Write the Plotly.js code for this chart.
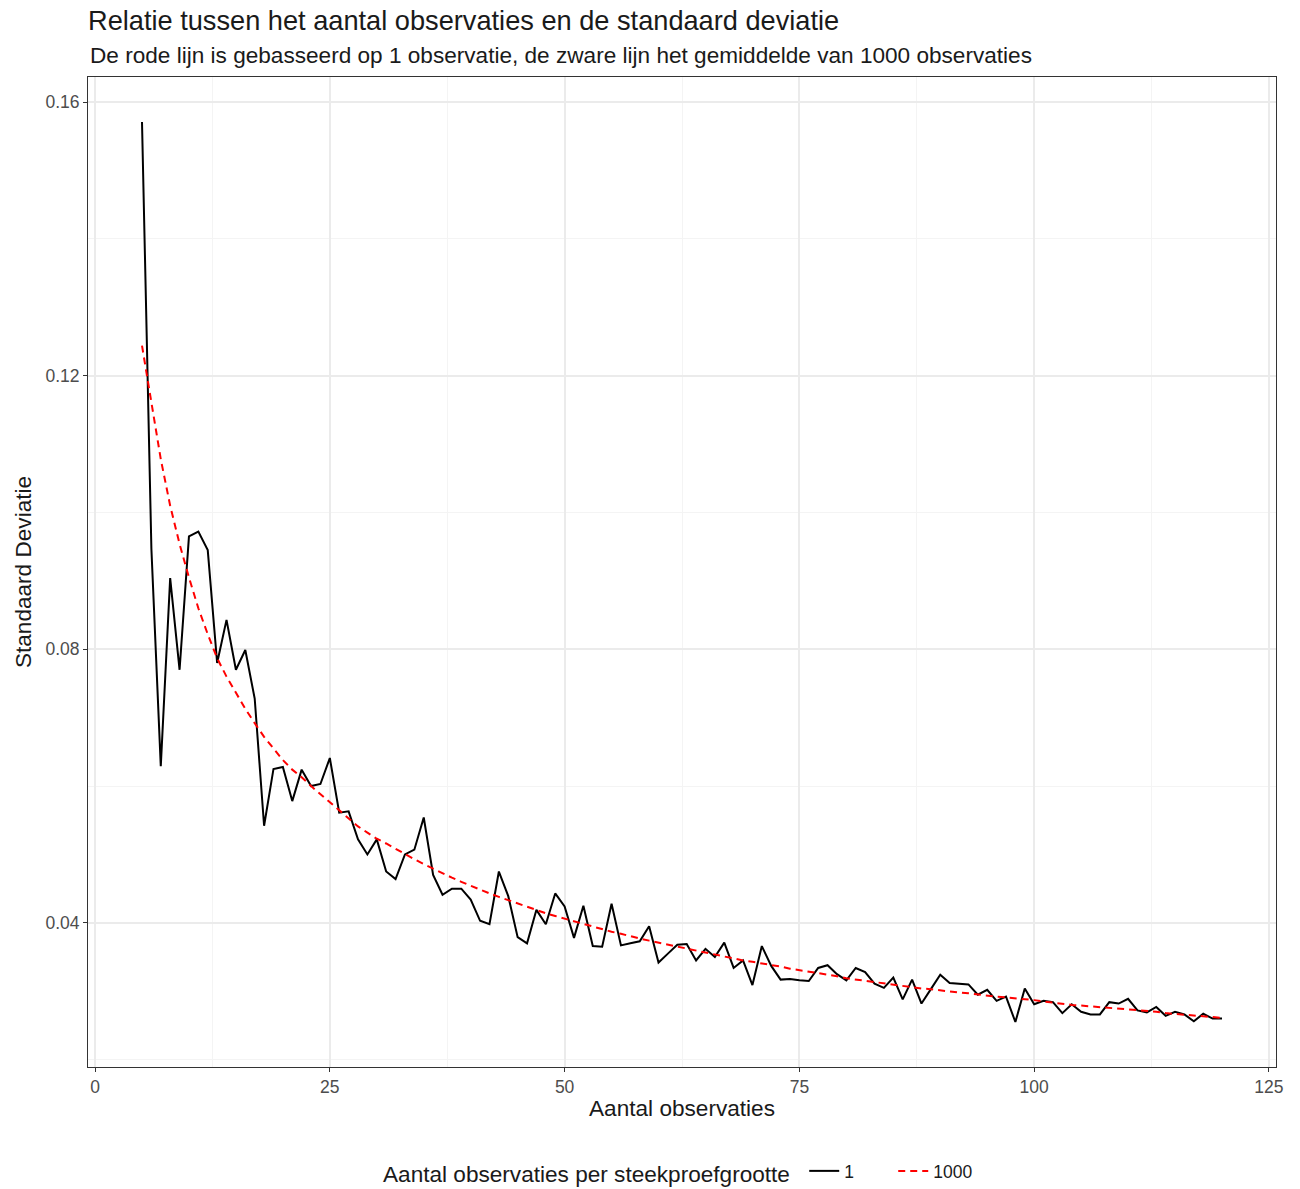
<!DOCTYPE html>
<html>
<head>
<meta charset="utf-8">
<script src="https://cdn.plot.ly/plotly-3.0.1.min.js"></script>
<style>
  html, body { margin: 0; padding: 0; background: #ffffff; }
  #chart { width: 1300px; height: 1189px; }
</style>
</head>
<body>
<div id="chart"></div>
<script>
// Sample sizes (aantal observaties)
const sampleSizes = [];
for (let n = 5; n <= 120; n++) sampleSizes.push(n);

// Series "1": standard deviation from a single observation per sample size
const sdSingle = [
  0.1571, 0.0947, 0.0629, 0.0904, 0.0770, 0.0965, 0.0972, 0.0945, 0.0780, 0.0843,
  0.0770, 0.0799, 0.0728, 0.0542, 0.0625, 0.0628, 0.0578, 0.0624, 0.0600, 0.0603,
  0.0641, 0.0561, 0.0563, 0.0522, 0.0500, 0.0522, 0.0475, 0.0464, 0.0500, 0.0507,
  0.0554, 0.0470, 0.0441, 0.0450, 0.0450, 0.0434, 0.0403, 0.0398, 0.0475, 0.0439,
  0.0379, 0.0370, 0.0419, 0.0398, 0.0443, 0.0424, 0.0378, 0.0425, 0.0366, 0.0365,
  0.0428, 0.0367, 0.0370, 0.0373, 0.0395, 0.0342, 0.0355, 0.0368, 0.0369, 0.0345,
  0.0362, 0.0350, 0.0371, 0.0334, 0.0345, 0.0309, 0.0366, 0.0337, 0.0317, 0.0318,
  0.0316, 0.0315, 0.0334, 0.0338, 0.0325, 0.0316, 0.0334, 0.0328, 0.0311, 0.0305,
  0.0320, 0.0288, 0.0317, 0.0282, 0.0303, 0.0324, 0.0312, 0.0311, 0.0310, 0.0295,
  0.0302, 0.0286, 0.0292, 0.0255, 0.0304, 0.0281, 0.0286, 0.0284, 0.0268, 0.0281,
  0.0270, 0.0266, 0.0266, 0.0284, 0.0282, 0.0289, 0.0272, 0.0269, 0.0277, 0.0264,
  0.0270, 0.0266, 0.0256, 0.0267, 0.0260, 0.0260
];

// Series "1000": mean standard deviation over 1000 observations per sample size
const sdMean1000 = [
  0.1244, 0.1160, 0.1078, 0.1010, 0.0954, 0.0905, 0.0860, 0.0822, 0.0787, 0.0760,
  0.0736, 0.0713, 0.0692, 0.0672, 0.0655, 0.0638, 0.0624, 0.0613, 0.0600, 0.0588,
  0.0577, 0.0565, 0.0553, 0.0541, 0.0532, 0.0523, 0.0516, 0.0508, 0.0500, 0.0493,
  0.0486, 0.0479, 0.0472, 0.0466, 0.0460, 0.0454, 0.0449, 0.0443, 0.0438, 0.0433,
  0.0428, 0.0424, 0.0419, 0.0414, 0.0410, 0.0406, 0.0402, 0.0398, 0.0394, 0.0390,
  0.0387, 0.0384, 0.0380, 0.0377, 0.0374, 0.0371, 0.0368, 0.0365, 0.0362, 0.0359,
  0.0356, 0.0353, 0.0351, 0.0348, 0.0345, 0.0343, 0.0341, 0.0338, 0.0336, 0.0333,
  0.0331, 0.0329, 0.0327, 0.0324, 0.0322, 0.0319, 0.0317, 0.0315, 0.0313, 0.0311,
  0.0309, 0.0308, 0.0306, 0.0304, 0.0303, 0.0301, 0.0300, 0.0298, 0.0297, 0.0295,
  0.0294, 0.0292, 0.0291, 0.0290, 0.0288, 0.0287, 0.0285, 0.0283, 0.0282, 0.0280,
  0.0279, 0.0278, 0.0276, 0.0275, 0.0274, 0.0273, 0.0272, 0.0271, 0.0270, 0.0268,
  0.0267, 0.0266, 0.0265, 0.0264, 0.0263, 0.0261
];

const seriesNames = ["1", "1000"];
const xTicks = [0, 25, 50, 75, 100, 125];
const yTicks = [0.04, 0.08, 0.12, 0.16];
const yTickLabels = ["0.04", "0.08", "0.12", "0.16"];

const FONT = "Liberation Sans, Arial, Helvetica, sans-serif";
const SIZE_TITLE = 27.2;
const SIZE_TEXT = 22.6;
const SIZE_SMALL = 17.5;

const traces = [
  {
    x: sampleSizes, y: sdSingle, name: seriesNames[0], type: "scatter", mode: "lines",
    line: { color: "#000000", width: 2 }
  },
  {
    x: sampleSizes, y: sdMean1000, name: seriesNames[1], type: "scatter", mode: "lines",
    line: { color: "#ff0000", width: 2, dash: "7px,5px" }
  }
];

const gridMajor = "#ebebeb";
const gridMinor = "#f4f4f4";

const layout = {
  width: 1300, height: 1189,
  paper_bgcolor: "#ffffff", plot_bgcolor: "#ffffff",
  font: { family: FONT, color: "#000000" },
  margin: { l: 88, r: 24, t: 77, b: 122, autoexpand: false },
  title: {
    text: "Relatie tussen het aantal observaties en de standaard deviatie",
    font: { family: FONT, size: SIZE_TITLE, color: "#1a1a1a" },
    x: 88 / 1300, xanchor: "left", xref: "container",
    y: 1 - 20 / 1189, yanchor: "middle", yref: "container"
  },
  annotations: [
    {
      text: "De rode lijn is gebasseerd op 1 observatie, de zware lijn het gemiddelde van 1000 observaties",
      xref: "paper", yref: "paper", x: 0, y: 1 + 22 / 990,
      xanchor: "left", yanchor: "middle", showarrow: false,
      font: { family: FONT, size: SIZE_TEXT, color: "#1a1a1a" }
    }
  ],
  xaxis: {
    range: [-0.75, 125.75],
    tickvals: xTicks, ticktext: xTicks.map(String),
    ticks: "outside", ticklen: 4, tickcolor: "#333333", tickwidth: 1,
    tickfont: { family: FONT, size: SIZE_SMALL, color: "#4d4d4d" },
    showgrid: true, gridcolor: gridMajor, gridwidth: 2,
    minor: { dtick: 12.5, tick0: 0, showgrid: true, gridcolor: gridMinor, gridwidth: 1, ticks: "" },
    showline: true, mirror: true, linecolor: "#333333", linewidth: 1,
    zeroline: false,
    title: { text: "Aantal observaties", font: { family: FONT, size: SIZE_TEXT, color: "#1a1a1a" }, standoff: 4 }
  },
  yaxis: {
    range: [0.01892, 0.16368],
    tickvals: yTicks, ticktext: yTickLabels,
    ticks: "outside", ticklen: 4, tickcolor: "#333333", tickwidth: 1,
    tickfont: { family: FONT, size: SIZE_SMALL, color: "#4d4d4d" },
    showgrid: true, gridcolor: gridMajor, gridwidth: 2,
    minor: { dtick: 0.02, tick0: 0, showgrid: true, gridcolor: gridMinor, gridwidth: 1, ticks: "" },
    showline: true, mirror: true, linecolor: "#333333", linewidth: 1,
    zeroline: false,
    title: { text: "Standaard Deviatie", font: { family: FONT, size: SIZE_TEXT, color: "#1a1a1a" }, standoff: 7 }
  },
  showlegend: true,
  legend: {
    orientation: "h", x: 0.5, xanchor: "center", xref: "paper",
    y: (1189 - 1173) / 1189, yanchor: "middle", yref: "container",
    title: { text: "Aantal observaties per steekproefgrootte ", side: "left",
             font: { family: FONT, size: SIZE_TEXT, color: "#1a1a1a" } },
    font: { family: FONT, size: SIZE_SMALL, color: "#1a1a1a" },
    bgcolor: "rgba(0,0,0,0)", itemwidth: 30, tracegroupgap: 0,
    entrywidth: 44, entrywidthmode: "pixels"
  }
};

Plotly.newPlot("chart", traces, layout, { displayModeBar: false, staticPlot: true });
</script>
</body>
</html>
